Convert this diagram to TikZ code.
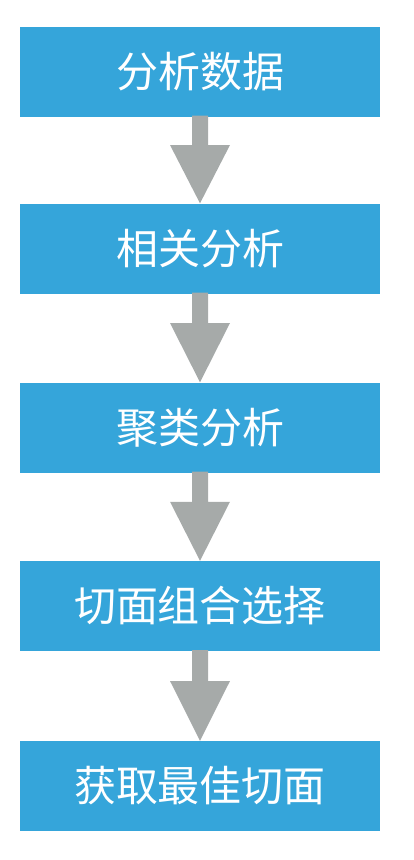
\documentclass[tikz,border=0pt]{standalone}
\usepackage{fontspec}
\newfontfamily\cjk{Noto Sans CJK SC}
\usetikzlibrary{calc}
\definecolor{boxblue}{HTML}{35A5DA}
\definecolor{arrgray}{HTML}{A6AAA9}
\begin{document}
\begin{tikzpicture}[x=1pt,y=-1pt,
  stepbox/.style={fill=boxblue,draw=none,minimum width=360pt,minimum height=90pt,inner sep=0pt,
    text=white,font=\cjk\fontsize{42}{48}\selectfont},
  flowarrow/.style={fill=arrgray,draw=none}]
\useasboundingbox (0,0) rectangle (414,860);
\node[stepbox] (b1) at (200,71.5) {分析数据};
\node[stepbox] (b2) at (200,248.5) {相关分析};
\node[stepbox] (b3) at (200,427.5) {聚类分析};
\node[stepbox] (b4) at (200,606) {切面组合选择};
\node[stepbox] (b5) at (200,786) {获取最佳切面};
\foreach \a/\b in {b1/b2,b2/b3,b3/b4,b4/b5}{
  \fill[flowarrow] ($(\a.south)+(-8,-1)$) -- ($(\a.south)+(8,-1)$)
    -- ($(\a.south)!0.5!(\b.north)+(8,-15)$) -- ($(\a.south)!0.5!(\b.north)+(30,-15)$)
    -- (\b.north) -- ($(\a.south)!0.5!(\b.north)+(-30,-15)$)
    -- ($(\a.south)!0.5!(\b.north)+(-8,-15)$) -- cycle;
}
\end{tikzpicture}
\end{document}
